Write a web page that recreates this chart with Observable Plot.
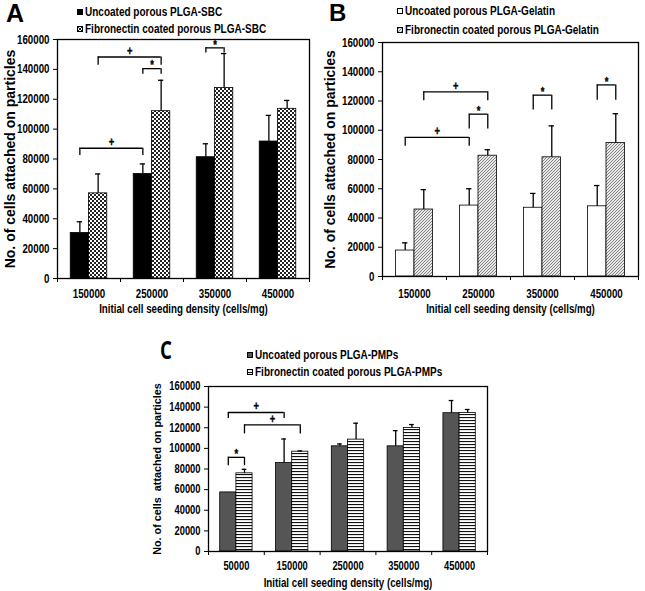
<!DOCTYPE html>
<html><head><meta charset="utf-8">
<script src="https://cdn.jsdelivr.net/npm/d3@7"></script>
<script src="https://cdn.jsdelivr.net/npm/@observablehq/plot@0.6"></script>
<style>
body{margin:0;background:#fff;}
#root{position:relative;width:645px;height:591px;overflow:hidden;font-family:"Liberation Sans",Arial,sans-serif;font-weight:bold;color:#000;}
.letter{position:absolute;line-height:1;font-weight:bold;}
.leg{position:absolute;display:flex;align-items:center;white-space:nowrap;height:14px;}
.leg svg{flex:none;margin-right:2px;}
.leg span{display:inline-block;transform:scaleX(0.8);transform-origin:left center;font-size:12.5px;}
</style></head><body><div id="root"></div>
<script>
// ---------- data ----------
const catsAB = ["150000", "250000", "350000", "450000"];
const catsC = ["50000", "150000", "250000", "350000", "450000"];
const yTicks = [0, 20000, 40000, 60000, 80000, 100000, 120000, 140000, 160000];
const xTitle = "Initial cell seeding density (cells/mg)";
const yTitleAB = "No. of cells attached on particles";
const yTitleC = "No. of cells\u00a0 attached on particles";

const namesA = ["Uncoated porous PLGA-SBC", "Fibronectin coated porous PLGA-SBC"];
const uncoatedA = [30500, 70000, 81200, 91700];
const uncoatedSdA = [7500, 6700, 9000, 17500];
const coatedA = [57000, 112000, 127500, 113600];
const coatedSdA = [13000, 20700, 23100, 5600];

const namesB = ["Uncoated porous PLGA-Gelatin", "Fibronectin coated porous PLGA-Gelatin"];
const uncoatedB = [17750, 48500, 47000, 48000];
const uncoatedSdB = [5250, 11500, 9800, 14200];
const coatedB = [45800, 82600, 81500, 91300];
const coatedSdB = [13600, 4100, 21500, 20000];

const namesC = ["Uncoated porous PLGA-PMPs", "Fibronectin coated porous PLGA-PMPs"];
const uncoatedC = [57300, 85800, 102000, 102000, 134100];
const uncoatedSdC = [0, 23300, 2300, 15200, 12300];
const coatedC = [75800, 96800, 108500, 119800, 134400];
const coatedSdC = [3900, 700, 15900, 3300, 3300];

// significance brackets: [category from, series from (0 uncoated, 1 coated), category to, series to, bracket value, leg end value, symbol]
const bracketsA = [
  ["150000", 1, "250000", 1, 148300, 142700, "+"],
  ["250000", 0, "250000", 1, 140500, 136700, "*"],
  ["150000", 0, "250000", 0, 87200, 82300, "+"],
  ["350000", 0, "350000", 1, 154400, 151000, "*"]
];
const bracketsB = [
  ["150000", 0, "250000", 0, 95100, 89000, "+"],
  ["150000", 1, "250000", 1, 126300, 120100, "+"],
  ["250000", 0, "250000", 1, 111000, 100800, "*"],
  ["350000", 0, "350000", 1, 124000, 113800, "*"],
  ["450000", 0, "450000", 1, 131000, 120500, "*"]
];
const bracketsC = [
  ["50000", 0, "50000", 1, 91300, 83200, "*"],
  ["50000", 0, "150000", 0, 134800, 129000, "+"],
  ["50000", 1, "150000", 1, 122800, 114000, "+"]
];

// ---------- patterns ----------
const root = document.getElementById("root");
const defs = document.createElement("div");
defs.innerHTML = `<svg width="0" height="0" style="position:absolute"><defs>
<pattern id="checker" patternUnits="userSpaceOnUse" width="4" height="4">
  <rect width="4" height="4" fill="#fff"/><rect width="2" height="2" fill="#222"/><rect x="2" y="2" width="2" height="2" fill="#222"/>
</pattern>
<pattern id="diag" patternUnits="userSpaceOnUse" width="3" height="3">
  <rect width="3" height="3" fill="#e8e8e8"/><path d="M-1,1 L1,-1 M0,3 L3,0 M2,4 L4,2" stroke="#777" stroke-width="0.9"/>
</pattern>
<pattern id="hstripe" patternUnits="userSpaceOnUse" width="4" height="3">
  <rect width="4" height="3" fill="#fff"/><rect y="0" width="4" height="1.1" fill="#111"/>
</pattern>
</defs></svg>`;
root.appendChild(defs.firstChild);

// the source figure's horizontal text is condensed: scale each non-rotated label about its own anchor
function condense(svg, s) {
  svg.querySelectorAll("text").forEach(t => {
    const tr = t.getAttribute("transform");
    if (!tr || /rotate/.test(tr)) return;
    t.setAttribute("transform", tr + ` scale(${s},1)`);
  });
}

function panel(cfg) {
  const cats = cfg.cats, n = cats.length, w = 0.29, capHalf = 0.042;
  const means = [cfg.unc, cfg.coat], sds = [cfg.uncSd, cfg.coatSd];
  const rows = [];
  cats.forEach((c, i) => [0, 1].forEach(s => rows.push({
    i, s, x1: i + (s - 1) * w, x2: i + s * w, xc: i + (s - 0.5) * w,
    mean: means[s][i], sd: sds[s][i]
  })));
  const pos = (c, s) => cats.indexOf(c) + (s - 0.5) * w;
  const br = cfg.brackets.map(([c1, s1, c2, s2, y, y0, sym]) => ({xa: pos(c1, s1), xb: pos(c2, s2), y, y0, sym}));
  const legs = br.flatMap(b => [{x: b.xa, y: b.y, y0: b.y0}, {x: b.xb, y: b.y, y0: b.y0}]);
  const err = rows.filter(d => d.sd > 0);
  const ink = {stroke: "black", strokeWidth: 1.3};
  const sym = {x: d => (d.xa + d.xb) / 2, y: "y", text: "sym", fontSize: 12, fill: "black", stroke: "black", strokeWidth: 0.35};
  const svg = Plot.plot({
    width: cfg.width, height: cfg.height,
    marginTop: cfg.m[0], marginRight: cfg.m[1], marginBottom: cfg.m[2], marginLeft: cfg.m[3],
    x: {domain: [-0.5, n - 0.5]},
    y: {domain: [0, 160000]},
    style: {fontFamily: "'Liberation Sans', Arial, sans-serif", fontWeight: "bold", fontSize: cfg.tickSize + "px", color: "black", background: "transparent", overflow: "visible"},
    marks: [
      Plot.rectY(rows.filter(d => d.s === 0), {x1: "x1", x2: "x2", y: "mean", fill: cfg.fills[0], stroke: "black", strokeWidth: 0.8}),
      Plot.rectY(rows.filter(d => d.s === 1), {x1: "x1", x2: "x2", y: "mean", fill: cfg.fills[1], stroke: "black", strokeWidth: 0.8}),
      Plot.ruleX(err, {x: "xc", y1: "mean", y2: d => d.mean + d.sd, ...ink}),
      Plot.ruleY(err, {x1: d => d.xc - capHalf, x2: d => d.xc + capHalf, y: d => d.mean + d.sd, ...ink}),
      Plot.ruleY(br, {x1: "xa", x2: "xb", y: "y", ...ink}),
      Plot.ruleX(legs, {x: "x", y1: "y0", y2: "y", ...ink}),
      Plot.text(br.filter(d => d.sym === "+"), {...sym, dy: -6}),
      Plot.text(br.filter(d => d.sym === "*"), {...sym, dy: -3}),
      Plot.frame({stroke: "black", strokeWidth: 1.3}),
      Plot.axisY({ticks: yTicks, tickSize: 4, tickPadding: 4, tickFormat: d => String(d), label: null}),
      Plot.axisX({ticks: d3.range(n + 1).map(i => i - 0.5), tickSize: 4, tickFormat: () => "", label: null}),
      Plot.axisX({ticks: d3.range(n), tickSize: 0, tickPadding: cfg.xPad, tickFormat: i => cats[i], label: null}),
      Plot.text([cfg.yTitle], {frameAnchor: "left", rotate: -90, dx: cfg.yDx, textAnchor: "middle", lineAnchor: "middle", text: d => d, fontSize: cfg.yTitleSize}),
      Plot.text([xTitle], {frameAnchor: "bottom", dy: cfg.xDy, textAnchor: "middle", lineAnchor: "middle", text: d => d, fontSize: cfg.xTitleSize})
    ]
  });
  condense(svg, 0.78);
  svg.style.position = "absolute";
  svg.style.left = cfg.left + "px";
  svg.style.top = cfg.top + "px";
  root.appendChild(svg);
}

function legend(x, y, gap, names, fills) {
  names.forEach((name, k) => {
    const d = document.createElement("div");
    d.className = "leg";
    d.style.left = x + "px";
    d.style.top = (y + k * gap - 7) + "px";
    d.innerHTML = `<svg width="6" height="6"><rect x="0.5" y="0.5" width="5" height="5" fill="${fills[k]}" stroke="black" stroke-width="1"/></svg><span>${name}</span>`;
    root.appendChild(d);
  });
}

function letter(t, x, y, size, extra) {
  const d = document.createElement("div");
  d.className = "letter";
  d.textContent = t;
  d.style.left = x + "px";
  d.style.top = y + "px";
  d.style.fontSize = size + "px";
  if (extra) Object.assign(d.style, extra);
  root.appendChild(d);
}

const fillsA = ["#000", "url(#checker)"];
const fillsB = ["#fff", "url(#diag)"];
const fillsC = ["#555", "url(#hstripe)"];

panel({cats: catsAB, unc: uncoatedA, uncSd: uncoatedSdA, coat: coatedA, coatSd: coatedSdA, fills: fillsA, brackets: bracketsA, tickSize: 12.5,
  width: 320, height: 316, m: [39, 11, 38, 57], left: 0, top: 0, xPad: 11, yDx: -47, yTitle: yTitleAB, yTitleSize: 14, xDy: 30, xTitleSize: 12.5});
panel({cats: catsAB, unc: uncoatedB, uncSd: uncoatedSdB, coat: coatedB, coatSd: coatedSdB, fills: fillsB, brackets: bracketsB, tickSize: 12.5,
  width: 325, height: 316, m: [42, 7, 40, 62], left: 320, top: 0, xPad: 13, yDx: -52, yTitle: yTitleAB, yTitleSize: 14, xDy: 32, xTitleSize: 12.5});
panel({cats: catsC, unc: uncoatedC, uncSd: uncoatedSdC, coat: coatedC, coatSd: coatedSdC, fills: fillsC, brackets: bracketsC, tickSize: 12,
  width: 347, height: 261, m: [56, 8, 40, 60], left: 148, top: 330, xPad: 10, yDx: -51, yTitle: yTitleC, yTitleSize: 10.8, xDy: 31, xTitleSize: 12.5});

legend(77, 12, 17, namesA, fillsA);
legend(397, 11, 19, namesB, fillsB);
legend(247, 355, 17, namesC, fillsC);

letter("A", 6, 1, 25);
letter("B", 329, 1, 24);
letter("C", 160, 337, 25, {fontFamily: "'Open Sans', sans-serif", transform: "scaleX(0.75)", transformOrigin: "left top"});
</script></body></html>
